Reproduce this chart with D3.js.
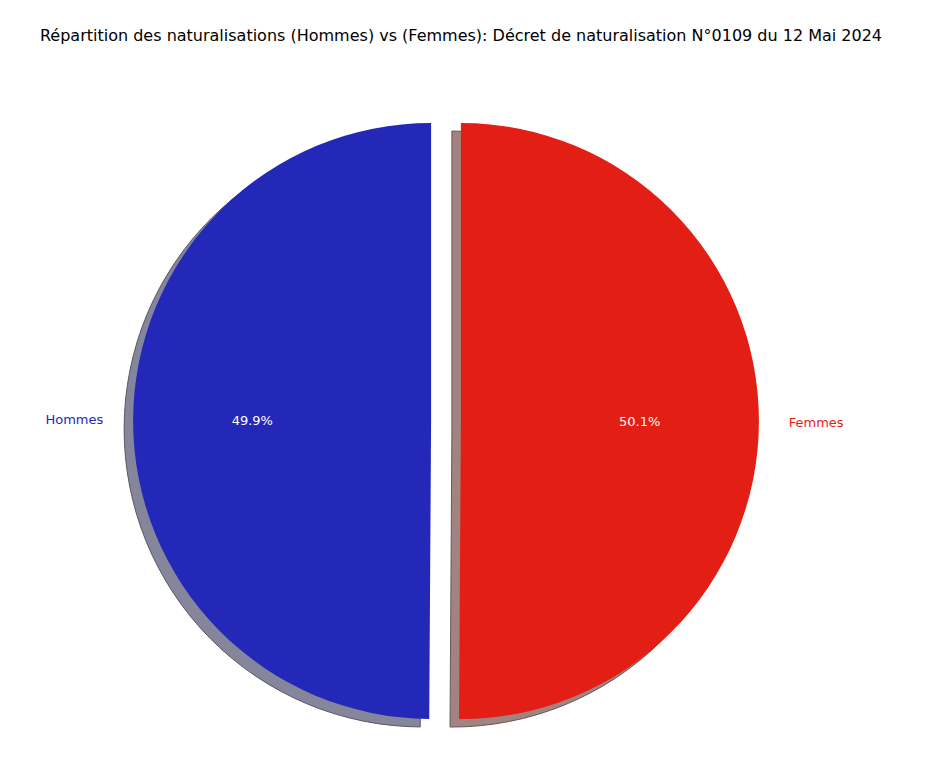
<html>
  <head>
    <script src="https://cdn.jsdelivr.net/npm/d3@7"></script>
    <style>
body { margin: 0; font-family: "DejaVu Sans", sans-serif; }
    </style>
  </head>
  <body>
    <script>

var labels = ["Hommes", "Femmes"],
    values = [49.9, 50.1],
    colors = ["#2428b9", "#e31e14"],
    shadows = ["#85869b", "#a18482"];

var w = 925, h = 771,
    cx = 446, cy = 421,
    r = 298,
    explode = 0.05;

var svg = d3.select("body").append("svg")
    .attr("width", w)
    .attr("height", h);

svg.append("text")
    .attr("x", 461)
    .attr("y", 41)
    .attr("text-anchor", "middle")
    .attr("font-size", 16)
    .text("Répartition des naturalisations (Hommes) vs (Femmes): Décret de naturalisation N°0109 du 12 Mai 2024");

// matplotlib style: start at top, counterclockwise
var pie = d3.pie().sort(null).startAngle(0).endAngle(-2 * Math.PI),
    arcs = pie(values),
    arc = d3.arc().innerRadius(0).outerRadius(r);

function mid(d) { return (d.startAngle + d.endAngle) / 2; }
function pos(d, k) {
  var a = mid(d);
  return [Math.sin(a) * k, -Math.cos(a) * k];
}

var g = svg.selectAll("g.slice")
    .data(arcs)
  .enter().append("g")
    .attr("class", "slice")
    .attr("transform", function(d) {
      var p = pos(d, r * explode);
      return "translate(" + (cx + p[0]) + "," + (cy + p[1]) + ")";
    });

// shadows
g.append("path")
    .attr("transform", "translate(-9,8)")
    .attr("fill", function(d, i) { return shadows[i]; })
    .attr("stroke", function(d, i) { return d3.color(shadows[i]).darker(1.2); })
    .attr("stroke-width", 1)
    .attr("d", arc);

g.append("path")
    .attr("fill", function(d, i) { return colors[i]; })
    .attr("d", arc);

g.append("text")
    .attr("x", function(d) { return pos(d, r * 0.6)[0]; })
    .attr("y", function(d) { return pos(d, r * 0.6)[1]; })
    .attr("dy", ".35em")
    .attr("text-anchor", "middle")
    .attr("fill", "white")
    .attr("font-size", 13)
    .text(function(d) { return d.value.toFixed(1) + "%"; });

g.append("text")
    .attr("x", function(d) { return pos(d, r * 1.1)[0]; })
    .attr("y", function(d) { return pos(d, r * 1.1)[1]; })
    .attr("dy", ".35em")
    .attr("text-anchor", function(d) { return pos(d, 1)[0] < 0 ? "end" : "start"; })
    .attr("fill", function(d, i) { return colors[i]; })
    .attr("font-size", 13)
    .text(function(d, i) { return labels[i]; });

    </script>
  </body>
</html>
